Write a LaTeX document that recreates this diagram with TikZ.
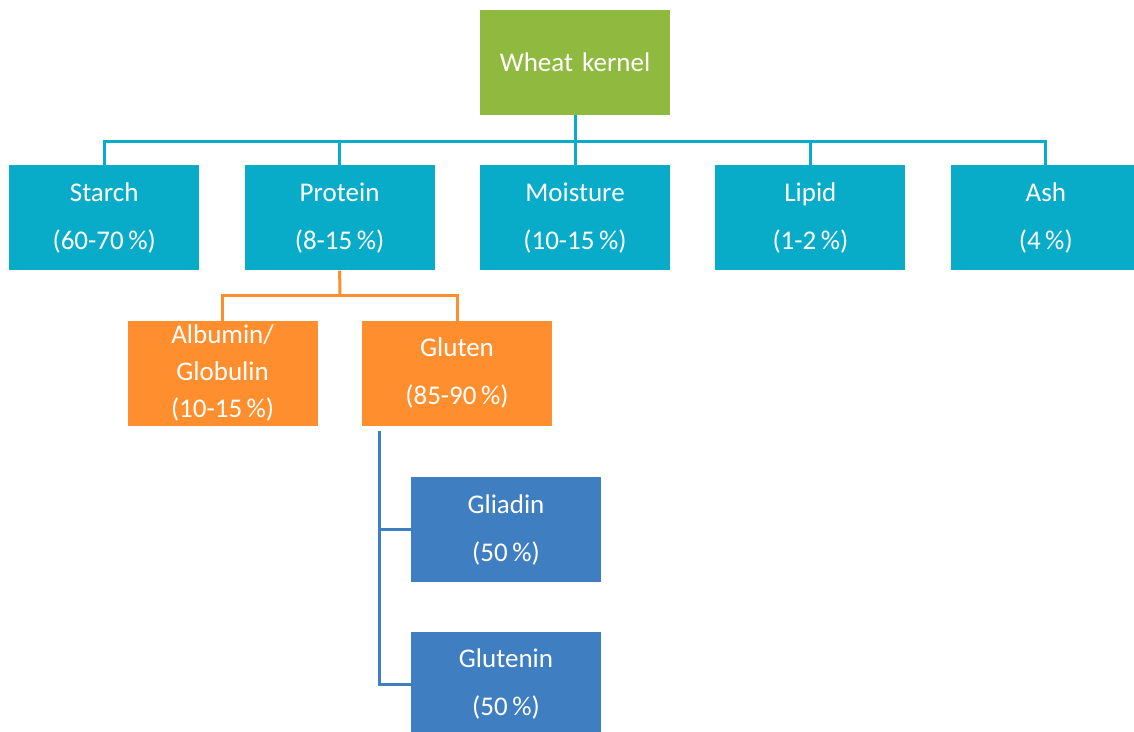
\documentclass[tikz,border=0pt]{standalone}
\usepackage{fontspec}
\setmainfont{Carlito}
\usetikzlibrary{positioning}

\definecolor{kernelgreen}{RGB}{143,186,63}
\definecolor{partteal}{RGB}{8,172,200}
\definecolor{protorange}{RGB}{255,143,46}
\definecolor{glutblue}{RGB}{63,126,193}

\begin{document}
\begin{tikzpicture}[x=1pt, y=-1pt,
    box/.style={rectangle, text=white, minimum width=190pt, minimum height=105pt, inner sep=0pt, text width=190pt, align=center, font=\fontsize{27}{48}\selectfont},
    greenbox/.style={box, fill=kernelgreen},
    tealbox/.style={box, fill=partteal},
    orangebox/.style={box, fill=protorange},
    bluebox/.style={box, fill=glutblue},
    tealline/.style={draw=partteal, line width=3pt},
    orangeline/.style={draw=protorange, line width=3pt},
    blueline/.style={draw=glutblue, line width=3pt},
    node distance=45pt]
    \useasboundingbox (0,0) rectangle (1134,731);
    % nodes
    \node[greenbox]   (Wheat)    at (575,62.5)                       {Wheat kernel};
    \node[tealbox]    (Moisture) [below=50pt of Wheat]               {Moisture\\(10-15\,\%)};
    \node[tealbox]    (Protein)  [left=of Moisture]                  {Protein\\(8-15\,\%)};
    \node[tealbox]    (Starch)   [left=of Protein]                   {Starch\\(60-70\,\%)};
    \node[tealbox]    (Lipid)    [right=of Moisture]                 {Lipid\\(1-2\,\%)};
    \node[tealbox]    (Ash)      [right=of Lipid]                    {Ash\\(4\,\%)};
    \node[orangebox]  (Albumin)  [below=50pt of Protein, xshift=-117pt, font=\fontsize{27}{37}\selectfont] {Albumin/\\Globulin\\(10-15\,\%)};
    \node[orangebox]  (Gluten)   [right=44pt of Albumin]             {Gluten\\(85-90\,\%)};
    \node[bluebox]    (Gliadin)  [below=51pt of Gluten, xshift=49pt] {Gliadin\\(50\,\%)};
    \node[bluebox]    (Glutenin) [below=49pt of Gliadin]             {Glutenin\\(50\,\%)};
    % lines
    \coordinate (bus)  at (575,141);
    \coordinate (pbus) at (340,295);
    \coordinate (gtop) at ([xshift=18pt, yshift=-5pt]Gluten.south west);
    \draw[tealline] (Wheat.south) -- (Moisture.north);
    \draw[tealline] (Starch.north) |- (bus) -| (Ash.north);
    \draw[tealline] (Protein.north) -- (Protein.north |- bus);
    \draw[tealline] (Lipid.north) -- (Lipid.north |- bus);
    \draw[orangeline] (Protein.south) -- (pbus);
    \draw[orangeline] (Albumin.north) |- (pbus) -| (Gluten.north);
    \draw[blueline] (gtop) |- (Glutenin.west);
    \draw[blueline] (gtop |- Gliadin.west) -- (Gliadin.west);
\end{tikzpicture}
\end{document}
